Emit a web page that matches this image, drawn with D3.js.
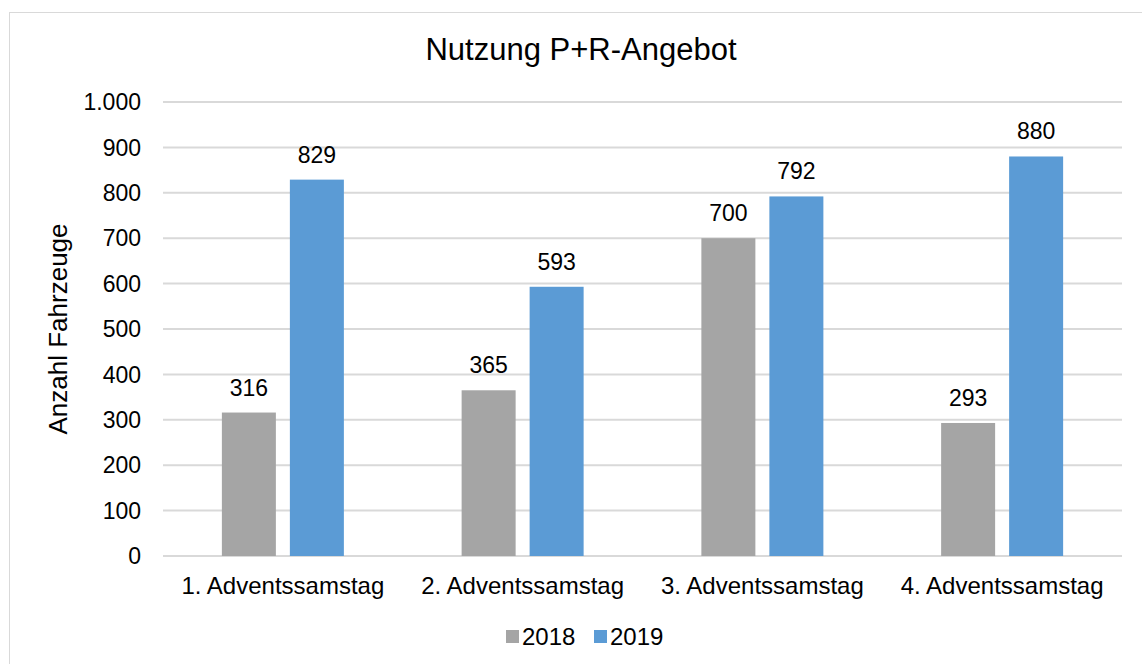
<!DOCTYPE html>
<html>
<head>
<meta charset="utf-8">
<script src="https://cdn.jsdelivr.net/npm/d3@7"></script>
<style>
  body { margin: 0; background: #fff; }
  text { font-family: "Liberation Sans", Arial, sans-serif; fill: #000; }
</style>
</head>
<body>
<div id="viz"></div>
<script>
const width = 1142;
const height = 664;
const margin = {top: 102, right: 20, bottom: 108, left: 163};

// data
const categories = ['1. Adventssamstag', '2. Adventssamstag', '3. Adventssamstag', '4. Adventssamstag'];
const seriesNames = ['2018', '2019'];
const values2018 = [316, 365, 700, 293];
const values2019 = [829, 593, 792, 880];
const yTicks = [0, 100, 200, 300, 400, 500, 600, 700, 800, 900, 1000];
const colors = ['#a5a5a5', '#5b9bd5'];

const rows = categories.map((c, i) => ({cat: c, vals: [values2018[i], values2019[i]]}));

const svg = d3.select('#viz').append('svg')
    .attr('width', width)
    .attr('height', height);

// outer frame
svg.append('rect')
    .attr('x', 9.5).attr('y', 12.5)
    .attr('width', width + 20).attr('height', height + 20)
    .attr('fill', 'none').attr('stroke', '#d9d9d9').attr('stroke-width', 1);

const x = d3.scaleBand()
    .domain(categories)
    .range([margin.left, width - margin.right])
    .paddingInner(0).paddingOuter(0);

const y = d3.scaleLinear()
    .domain([0, 1000])
    .range([height - margin.bottom, margin.top]);

const barW = 54, barGap = 14;
const xs = d3.scaleBand().domain(seriesNames).range([0, barW * 2 + barGap]).paddingInner(barGap / (barW + barGap));

// gridlines
svg.append('g')
    .selectAll('line')
    .data(yTicks)
    .join('line')
    .attr('x1', margin.left).attr('x2', width - margin.right)
    .attr('y1', d => y(d)).attr('y2', d => y(d))
    .attr('stroke', '#d9d9d9').attr('stroke-width', 2);

// y tick labels
const fmt = d3.formatLocale({decimal: ',', thousands: '.', grouping: [3], currency: ['', '€']}).format(',d');
svg.append('g')
    .selectAll('text')
    .data(yTicks)
    .join('text')
    .attr('x', 141)
    .attr('y', d => y(d))
    .attr('dy', '0.36em')
    .attr('text-anchor', 'end')
    .style('font-size', '23px')
    .text(d => fmt(d));

// bars
const groups = svg.append('g').selectAll('g')
    .data(rows)
    .join('g')
    .attr('transform', d => `translate(${x(d.cat) + (x.bandwidth() - xs.range()[1]) / 2},0)`);

groups.selectAll('rect')
    .data(d => d.vals.map((v, i) => ({s: seriesNames[i], v: v, i: i})))
    .join('rect')
    .attr('x', d => xs(d.s))
    .attr('y', d => y(d.v))
    .attr('width', xs.bandwidth())
    .attr('height', d => y(0) - y(d.v))
    .attr('fill', d => colors[d.i]);

groups.selectAll('text.lbl')
    .data(d => d.vals.map((v, i) => ({s: seriesNames[i], v: v, i: i})))
    .join('text')
    .attr('class', 'lbl')
    .attr('x', d => xs(d.s) + xs.bandwidth() / 2)
    .attr('y', d => y(d.v) - 17)
    .attr('text-anchor', 'middle')
    .style('font-size', '23px')
    .text(d => d.v);

// x labels
svg.append('g')
    .selectAll('text')
    .data(categories)
    .join('text')
    .attr('x', d => x(d) + x.bandwidth() / 2)
    .attr('y', 594)
    .attr('text-anchor', 'middle')
    .style('font-size', '24px')
    .text(d => d);

// y axis title
svg.append('text')
    .attr('transform', `translate(67, 329) rotate(-90)`)
    .attr('text-anchor', 'middle')
    .style('font-size', '26px')
    .text('Anzahl Fahrzeuge');

// title
svg.append('text')
    .attr('x', 581)
    .attr('y', 60)
    .attr('text-anchor', 'middle')
    .style('font-size', '31px')
    .text('Nutzung P+R-Angebot');

// legend
const legend = svg.append('g').attr('transform', 'translate(506, 636)');
const legX = [0, 88];
seriesNames.forEach((s, i) => {
    legend.append('rect')
        .attr('x', legX[i]).attr('y', -6)
        .attr('width', 13).attr('height', 13)
        .attr('fill', colors[i]);
    legend.append('text')
        .attr('x', legX[i] + 16).attr('y', 0)
        .attr('dy', '0.36em')
        .style('font-size', '24px')
        .text(s);
});
</script>
</body>
</html>
